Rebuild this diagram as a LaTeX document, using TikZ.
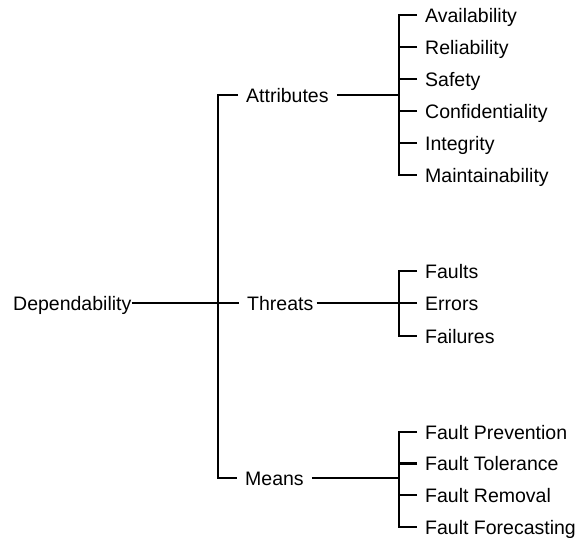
\documentclass[tikz,border=0pt]{standalone}
\usepackage{fontspec}
\setmainfont{Liberation Sans}
\begin{document}
\begin{tikzpicture}[x=1pt,y=-1pt,
  lbl/.style={anchor=west,inner ysep=0pt,inner xsep=8pt,text height=14pt,text depth=0pt,font=\fontsize{19.5}{23}\selectfont},
  conn/.style={line width=2.7pt,black}]
\useasboundingbox (0,0) rectangle (577,541);
% nodes
\node[lbl,inner xsep=0pt] (dep) at (13,303) {Dependability};
\node[lbl] (attr) at (238,95) {Attributes};
\node[lbl] (thr) at (239,303) {Threats};
\node[lbl] (mea) at (237,478) {Means};
\node[lbl] (av) at (417,15) {Availability};
\node[lbl] (rel) at (417,47) {Reliability};
\node[lbl] (saf) at (417,79) {Safety};
\node[lbl] (con) at (417,111) {Confidentiality};
\node[lbl] (int) at (417,143) {Integrity};
\node[lbl] (mai) at (417,175) {Maintainability};
\node[lbl] (fau) at (417,271) {Faults};
\node[lbl] (err) at (417,303) {Errors};
\node[lbl] (fai) at (417,336) {Failures};
\node[lbl] (fp) at (417,432) {Fault Prevention};
\node[lbl] (ft) at (417,463.5) {Fault Tolerance};
\node[lbl] (fr) at (417,495) {Fault Removal};
\node[lbl] (ff) at (417,527) {Fault Forecasting};
% junctions
\coordinate (b1) at (218,303);
\coordinate (ba) at (399,95);
\coordinate (bt) at (399,303);
\coordinate (bm) at (399,478);
% connectors
\draw[conn] (dep.east) -- (thr.west);
\draw[conn] (attr.west) -- (attr.west -| b1) -- (mea.west -| b1) -- (mea.west);
\draw[conn] (attr.east) -- (ba);
\draw[conn] (av.west) -- (av.west -| ba) -- (mai.west -| ba) -- (mai.west);
\foreach \n in {rel,saf,con,int} \draw[conn] (\n.west) -- (\n.west -| ba);
\draw[conn] ([xshift=-5pt]thr.east) -- (bt);
\draw[conn] (fau.west) -- (fau.west -| bt) -- (fai.west -| bt) -- (fai.west);
\draw[conn] (err.west) -- (bt);
\draw[conn] (mea.east) -- (bm);
\draw[conn] (fp.west) -- (fp.west -| bm) -- (ff.west -| bm) -- (ff.west);
\foreach \n in {ft,fr} \draw[conn] (\n.west) -- (\n.west -| bm);
\end{tikzpicture}
\end{document}
